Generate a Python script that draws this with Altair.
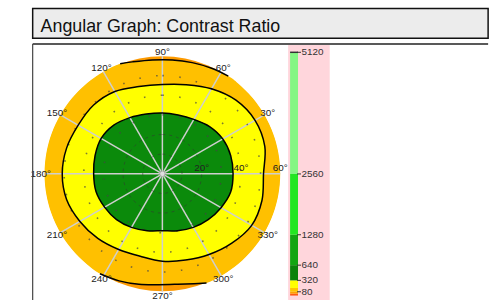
import math
import altair as alt
import pandas as pd

TITLE = "Angular Graph: Contrast Ratio"

# contour radii (inclination, degrees) read per azimuth (degrees)
AZ15 = list(range(0, 360, 15))
GREEN_R = [36, 36, 35.5, 34, 32, 31, 31, 31.5, 33, 35, 36, 35.5,
           35, 35, 34, 33, 31.5, 30, 29, 30, 31.5, 33, 34.5, 36]
YELLOW_R = [51.5, 54, 54.5, 53, 50, 47, 45.5, 46, 48.4, 49.5, 49.5, 50.5,
            51, 50.5, 48.5, 46.5, 44.5, 43.5, 44.5, 45.5, 47.5, 50, 52.5, 52.5]
AMBER_AZ = [0, 10, 20, 30, 40, 50, 56, 65, 75, 85, 95, 105, 111, 120, 130, 140,
            150, 160, 170, 180, 190, 200, 210, 220, 230, 238, 248, 258, 268,
            278, 286, 292, 300, 310, 320, 330, 340, 350]
AMBER_R = [60, 60, 60, 60, 60, 60, 60, 59.3, 58.6, 58.2, 58.2, 59.0, 60, 60, 60, 60,
           60, 60, 60, 60, 60, 60, 60, 60, 60, 60, 58.8, 57.5, 56.5,
           56.8, 58.2, 60, 60, 60, 60, 60, 60, 60]
AMBER_SEG = ["none"] * 6 + ["top"] * 7 + ["none"] * 12 + ["bottom"] * 7 + ["none"] * 6

SPOKE_AZ = list(range(0, 360, 30))
AZ_LABEL_AZ = [30, 60, 90, 120, 150, 180, 210, 240, 270, 300, 330]
AZ_LABELS = ["30°", "60°", "90°", "120°", "150°", "180°", "210°", "240°", "270°", "300°", "330°"]
INNER_RINGS = [10, 20]
OUTER_RINGS = [30, 40, 50]
RADIAL_R = [20, 40, 60]
RADIAL_LABELS = ["20°", "40°", "60°"]
MAX_INC = 60

BAND_LO = [0, 40, 80, 160, 320, 640, 1280, 2560]
BAND_HI = [40, 80, 160, 320, 640, 1280, 2560, 5120]
CB_TICKS = [80, 320, 640, 1280, 2560, 5120]
CB_LABELS = ["80", "320", "640", "1280", "2560", "5120"]

BAND_COLORS = ["#ff5a10", "#ffa000", "#ffc400", "#ffff00",
               "#0a820a", "#12a512", "#22e622", "#84f684"]
C_DISC, C_AMBER, C_YELLOW, C_GREEN = "#fd9a00", "#ffc000", "#ffff00", "#0b8a0b"
FONT = "Liberation Sans"

XS = alt.Scale(domain=[-60, 60], range=[12, 250])
YS = alt.Scale(domain=[-60, 60], range=[250, 12])
RS = alt.Scale(type="linear", domain=[0, 60], range=[0, 119], zero=True)
CBS = alt.Scale(domain=[0, 5120], range=[254, 8.3])

POLAR = dict(x="datum.r*cos(datum.az*PI/180)", y="datum.r*sin(datum.az*PI/180)")


def xy():
    return dict(x=alt.X("x:Q", scale=XS, axis=None), y=alt.Y("y:Q", scale=YS, axis=None))


def rad():
    return alt.Radius("r:Q", scale=RS, stack=False)


def poly_df(az, r, seg=None):
    d = pd.DataFrame({"az": az, "r": r, "i": list(range(len(az)))})
    if seg is not None:
        d["seg"] = seg
    return d


green = poly_df(AZ15, GREEN_R)
yellow = poly_df(AZ15, YELLOW_R)
amber = poly_df(AMBER_AZ, AMBER_R, AMBER_SEG)

center = pd.DataFrame({"x": [0], "y": [0], "r": [MAX_INC - 0.2]})
disc = alt.Chart(center).mark_arc(theta=0, theta2=2 * math.pi, color=C_DISC).encode(
    radius=rad(), **xy())


def fill_layer(df, col):
    return alt.Chart(df).transform_calculate(**POLAR).mark_line(
        fill=col, strokeOpacity=0, interpolate="cardinal-closed"
    ).encode(order=alt.Order("i:Q"), **xy())


def line_layer(df, closed=True):
    ch = alt.Chart(df).transform_calculate(**POLAR)
    if not closed:
        ch = ch.transform_filter("datum.seg != 'none'")
    enc = dict(order=alt.Order("i:Q"), **xy())
    if not closed:
        enc["detail"] = "seg:N"
    return ch.mark_line(
        color="black", strokeWidth=1.5,
        interpolate="cardinal-closed" if closed else "cardinal"
    ).encode(**enc)


spokes = alt.Chart(pd.DataFrame({"az": SPOKE_AZ})).transform_calculate(
    x="0", y="0",
    x2=f"{MAX_INC}*cos(datum.az*PI/180)", y2=f"{MAX_INC}*sin(datum.az*PI/180)"
).mark_rule(color="#cfcfcf", strokeWidth=1.5).encode(x2="x2:Q", y2="y2:Q", **xy())

rings_in = alt.Chart(pd.DataFrame({"x": [0] * 2, "y": [0] * 2, "r": INNER_RINGS})).mark_arc(
    theta=0, theta2=2 * math.pi, fillOpacity=0, stroke="#333", strokeWidth=1,
    strokeDash=[3, 4], strokeOpacity=0.55
).encode(radius=rad(), **xy())

rings_out = alt.Chart(pd.DataFrame({"x": [0] * 3, "y": [0] * 3, "r": OUTER_RINGS})).mark_arc(
    theta=0, theta2=2 * math.pi, fillOpacity=0, stroke="#444", strokeWidth=1.6,
    strokeDash=[1.6, 15.5], strokeOpacity=0.7
).encode(radius=rad(), **xy())

hub = alt.Chart(pd.DataFrame({"x": [0], "y": [0]})).mark_point(
    shape="circle", size=30, filled=True, color="#e6e6e6", stroke="#999", strokeWidth=1
).encode(**xy())

az_text = alt.Chart(pd.DataFrame({"az": AZ_LABEL_AZ, "lab": AZ_LABELS, "r": [62] * len(AZ_LABELS)})
                    ).transform_calculate(**POLAR).mark_text(
    font=FONT, fontSize=10, color="#222", align="center", baseline="middle"
).encode(text="lab:N", **xy())

rad_text = alt.Chart(pd.DataFrame({"x": RADIAL_R, "y": [2.8] * 3, "lab": RADIAL_LABELS})).mark_text(
    font=FONT, fontSize=10, color="#222", align="center", baseline="middle"
).encode(text="lab:N", **xy())

# colour bar
one = pd.DataFrame({"k": [0]})
pink = alt.Chart(one).mark_rect(color="#ffd6dc").encode(
    x=alt.value(258), x2=alt.value(300), y=alt.value(1), y2=alt.value(261))
bands = pd.DataFrame({"lo": BAND_LO, "hi": BAND_HI, "band": [str(v) for v in BAND_LO]})
cbar = alt.Chart(bands).mark_rect().encode(
    x=alt.value(260), x2=alt.value(268),
    y=alt.Y("lo:Q", scale=CBS, axis=None), y2="hi:Q",
    color=alt.Color("band:N", scale=alt.Scale(domain=[str(v) for v in BAND_LO], range=BAND_COLORS),
                    legend=None))
ticks_df = pd.DataFrame({"v": CB_TICKS, "lab": CB_LABELS})
cticks = alt.Chart(ticks_df).mark_rule(color="#333", strokeWidth=1).encode(
    x=alt.value(267), x2=alt.value(271), y=alt.Y("v:Q", scale=CBS, axis=None))
ctop = alt.Chart(ticks_df).transform_filter("datum.v == 5120").mark_rule(
    color="#333", strokeWidth=1.5).encode(
    x=alt.value(260), x2=alt.value(268), y=alt.Y("v:Q", scale=CBS, axis=None))
clabels = alt.Chart(ticks_df).mark_text(
    font=FONT, fontSize=10, color="#333", align="left", baseline="middle").encode(
    x=alt.value(271.5), y=alt.Y("v:Q", scale=CBS, axis=None), text="lab:N")

border_top = alt.Chart(one).mark_rule(color="#222", strokeWidth=1.5).encode(
    x=alt.value(0), x2=alt.value(460), y=alt.value(0))
border_left = alt.Chart(one).mark_rule(color="#444", strokeWidth=1.2).encode(
    x=alt.value(0), y=alt.value(0), y2=alt.value(261))

bottom = alt.layer(
    pink, disc, fill_layer(amber, C_AMBER), fill_layer(yellow, C_YELLOW), fill_layer(green, C_GREEN),
    spokes, rings_in, rings_out,
    line_layer(green), line_layer(yellow), line_layer(amber, closed=False),
    hub, az_text, rad_text, cbar, ctop, cticks, clabels, border_top, border_left
).resolve_scale(y="independent").properties(
    width=460, height=261, view=alt.ViewBackground(stroke="transparent"))

top = alt.Chart(pd.DataFrame({"t": [TITLE]})).mark_text(
    align="left", baseline="alphabetic", font=FONT, fontSize=18, color="#111"
).encode(x=alt.value(8), y=alt.value(23.5), text="t:N").properties(
    width=460, height=30,
    view=alt.ViewBackground(fill="#ececec", stroke="#111", strokeWidth=1.5))

chart = alt.vconcat(top, bottom, spacing=3).properties(
    padding={"left": 30, "top": 6, "right": 10, "bottom": 0})

chart.save("out.html", embed_options={"renderer": "svg", "actions": False})
